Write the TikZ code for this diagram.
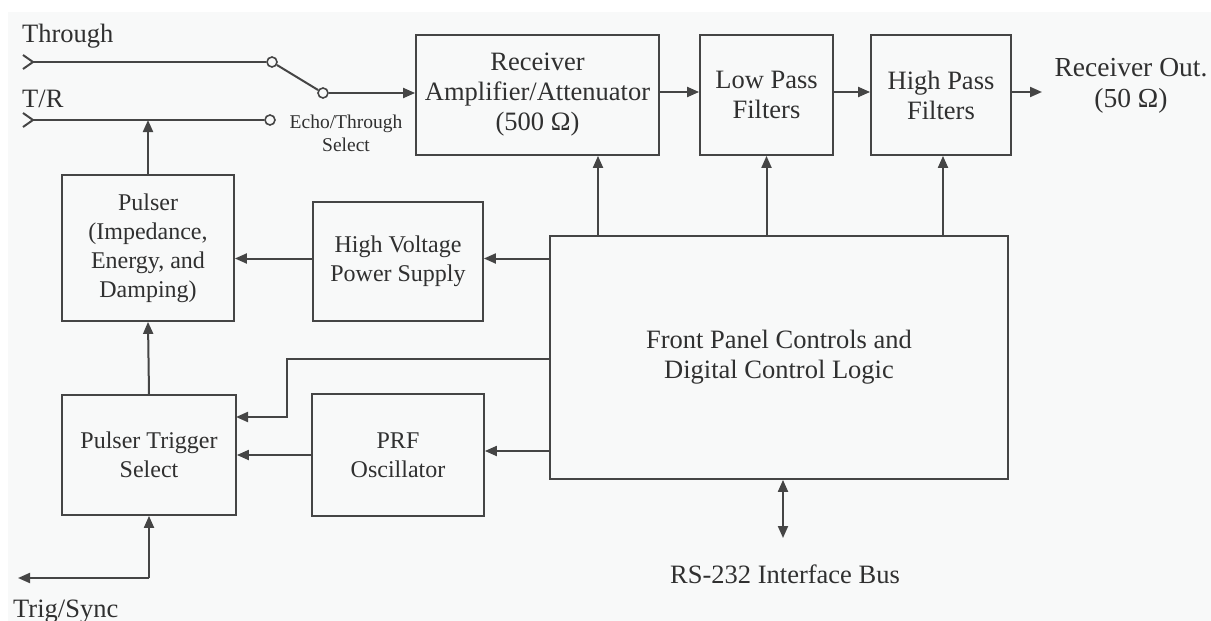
\documentclass[tikz,border=0pt]{standalone}
\usepackage{fontspec}
\setmainfont{Liberation Serif}
\newfontfamily\diagfont{Liberation Serif}
\usepackage{tikz}
\usetikzlibrary{arrows.meta,calc,positioning}
\usepackage{xcolor}
\definecolor{bgcol}{HTML}{F8F9F9}
\definecolor{linecol}{HTML}{454545}
\definecolor{txtcol}{HTML}{303030}
\newcommand{\bigtxt}{\diagfont\fontsize{26.5}{30}\selectfont}
\newcommand{\midtxt}{\diagfont\fontsize{24}{29}\selectfont}
\newcommand{\smalltxt}{\diagfont\fontsize{19.5}{23}\selectfont}

\begin{document}
\begin{tikzpicture}[x=1pt, y=-1pt,
    >={Triangle[length=12pt,width=10pt]},
    block/.style={draw=linecol, line width=1.8pt, align=center, inner sep=0pt, text=txtcol, font=\bigtxt},
    wire/.style={draw=linecol, line width=2pt},
    lbl/.style={text=txtcol, font=\bigtxt, inner sep=0pt},
    contact/.style={circle, draw=linecol, line width=1.6pt, fill=bgcol, minimum size=10pt, inner sep=0pt}]

    % Page and background
    \useasboundingbox (0,0) rectangle (1211,621);
    \fill[white] (0,0) rectangle (1211,621);
    \fill[bgcol] (8,12) rectangle (1211,621);

    % Blocks
    \node[block, minimum width=243pt, minimum height=120pt] (recv) at (537.5,95) {Receiver\\Amplifier/Attenuator\\(500 Ω)};
    \node[block, minimum width=133pt, minimum height=120pt] (lpf) at (766.5,95) {Low Pass\\Filters};
    \node[block, minimum width=140pt, minimum height=120pt] (hpf) at (941,95) {High Pass\\Filters};
    \node[block, font=\midtxt, minimum width=172pt, minimum height=146pt] (pulser) at (148,248) {Pulser\\(Impedance,\\Energy, and\\Damping)};
    \node[block, font=\midtxt, minimum width=170pt, minimum height=119pt] (hv) at (398,261.5) {High Voltage\\Power Supply};
    \node[block, minimum width=458pt, minimum height=243pt] (front) at (779,357.5) {Front Panel Controls and\\Digital Control Logic};
    \node[block, font=\midtxt, minimum width=174pt, minimum height=120pt] (pts) at (149,455) {Pulser Trigger\\Select};
    \node[block, font=\midtxt, minimum width=172pt, minimum height=122pt] (prf) at (398,455) {PRF\\Oscillator};

    % Inputs and echo/through switch
    \node[lbl, anchor=base west] (thru) at (22,42) {Through};
    \node[lbl, anchor=base west] (tr) at (22,107) {T/R};
    \coordinate (thruin) at (33,62);
    \coordinate (trin) at (33,120);
    \node[contact] (c1) at (272,62) {};
    \node[contact] (c2) at (323,93) {};
    \node[contact] (c3) at (270,120) {};
    \draw[wire] ($(thruin)+(-10,-7)$) -- (thruin) -- ($(thruin)+(-10,7)$);
    \draw[wire] ($(trin)+(-10,-7)$) -- (trin) -- ($(trin)+(-10,7)$);
    \draw[wire] (thruin) -- (c1);
    \draw[wire] (trin) -- (c3);
    \draw[wire] (c1) -- (c2);
    \node[lbl, font=\smalltxt, align=center] (echo) at (346,133) {Echo/Through\\Select};
    \draw[wire, ->] (c2) -- (c2 -| recv.west);

    % Receiver chain
    \coordinate (rout) at (1042,92);
    \draw[wire, ->] ([yshift=3pt]recv.east) -- ([yshift=3pt]lpf.west);
    \draw[wire, ->] ([yshift=3pt]lpf.east) -- ([yshift=3pt]hpf.west);
    \draw[wire, ->] (hpf.east |- rout) -- (rout);
    \node[lbl, align=center, font=\diagfont\fontsize{27.5}{31}\selectfont] (out) at (1131,86) {Receiver Out.\\(50 Ω)};

    % Controls out of the front panel
    \draw[wire, ->] ([xshift=60.5pt]recv.south |- front.north) -- ([xshift=60.5pt]recv.south);
    \draw[wire, ->] (lpf.south |- front.north) -- (lpf.south);
    \draw[wire, ->] ([xshift=2pt]hpf.south |- front.north) -- ([xshift=2pt]hpf.south);
    \coordinate (hvin) at ([yshift=3pt]hv.east);
    \draw[wire, ->] (front.west |- hvin) -- (hvin);
    \coordinate (prfin) at ([yshift=4pt]prf.east);
    \draw[wire, ->] (front.west |- prfin) -- (prfin);
    \coordinate (bend) at (287,359);
    \coordinate (ptsin) at (236,417);
    \draw[wire, ->] (front.west |- bend) -- (bend) -- (bend |- ptsin) -- (ptsin);

    % Pulser path
    \draw[wire, ->] ([yshift=3pt]hv.west) -- ([yshift=3pt]hv.west -| pulser.east);
    \draw[wire, ->] (prf.west) -- (pts.east);
    \draw[wire, ->] (pts.north) -- (pulser.south);
    \draw[wire, ->] (pulser.north) -- (pulser.north |- trin);

    % Trig/Sync and RS-232
    \coordinate (trigcorner) at (149,578);
    \coordinate (trigend) at (18,578);
    \draw[wire, ->] (trigcorner) -- (pts.south);
    \draw[wire, ->] (trigcorner) -- (trigend);
    \node[lbl, anchor=base west] (trig) at (13,617) {Trig/Sync};
    \coordinate (busend) at (783,538);
    \draw[wire, <->] (busend |- front.south) -- (busend);
    \node[lbl, anchor=base] (bus) at (785,583) {RS-232 Interface Bus};
\end{tikzpicture}
\end{document}
